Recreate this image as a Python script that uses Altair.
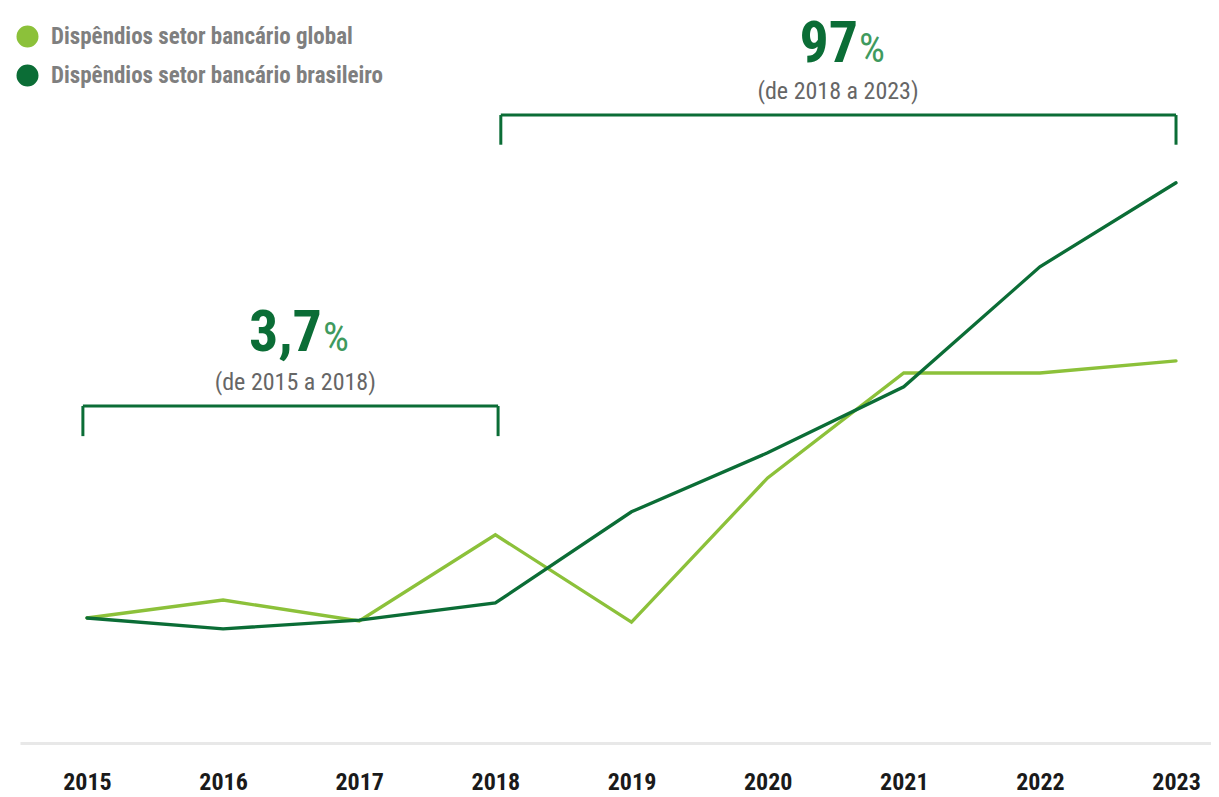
import altair as alt
import pandas as pd

# ---- data (index-like units) ----
years = [2015, 2016, 2017, 2018, 2019, 2020, 2021, 2022, 2023]
global_vals = [100.0, 104.3, 99.3, 119.9, 99.0, 133.5, 158.6, 158.6, 161.5]
brasil_vals = [100.0, 97.4, 99.5, 103.6, 125.4, 139.5, 155.3, 184.0, 204.1]
series_names = ["Dispêndios setor bancário global", "Dispêndios setor bancário brasileiro"]
series_colors = ["#8cc13a", "#0b6d36"]

# ---- annotations ----
ann_value = ["3,7", "97"]
ann_sub = ["(de 2015 a 2018)", "(de 2018 a 2023)"]
br_x0 = [2014.97, 2018.04]
br_x1 = [2018.02, 2023.0]
br_top = [150.7, 220.3]
br_bottom = [143.5, 213.2]
num_x = [2016.726, 2020.664]
num_y = [163.9, 233.0]
sub_x = [2016.53, 2020.517]
sub_y = [154.5, 224.2]

FONT = ("Roboto Condensed, Open Sans Condensed, Noto Sans Condensed, Arial Narrow, "
        "Liberation Sans Narrow, DejaVu Sans Condensed, sans-serif")
DARK = "#0b6d36"

rows = []
for name, vals in zip(series_names, [global_vals, brasil_vals]):
    for y, v in zip(years, vals):
        rows.append({"ano": y, "valor": v, "serie": name})
df = pd.DataFrame(rows)

ann = pd.DataFrame({
    "x0": br_x0, "x1": br_x1, "top": br_top, "bottom": br_bottom,
    "nx": num_x, "ny": num_y, "sx": sub_x, "sy": sub_y,
    "num": ann_value, "sub": ann_sub, "pct": ["%", "%"],
})
ticks = pd.DataFrame({
    "x": br_x0 + br_x1,
    "top": br_top + br_top,
    "bottom": br_bottom + br_bottom,
})

xscale = alt.Scale(domain=[2014.508, 2023.257], nice=False, zero=False)
yscale = alt.Scale(domain=[70.1, 245.9], nice=False, zero=False)

lines = alt.Chart(df).mark_line(strokeWidth=3.3, strokeCap="round").encode(
    x=alt.X("ano:Q", scale=xscale, axis=alt.Axis(
        values=years, format="d", title=None, grid=False, ticks=False,
        domainColor="#e8e8e8", domainWidth=3,
        labelFont=FONT, labelFontSize=24, labelFontWeight="bold",
        labelColor="#1a1a1a", labelPadding=27)),
    y=alt.Y("valor:Q", scale=yscale, axis=None),
    color=alt.Color("serie:N", sort=series_names,
                    scale=alt.Scale(domain=series_names, range=series_colors),
                    legend=alt.Legend(
                        title=None, orient="none", legendX=-4, legendY=17,
                        symbolType="circle", symbolSize=121, symbolStrokeWidth=11,
                        labelFont=FONT, labelFontSize=23, labelFontWeight="bold",
                        labelColor="#7f7f7f", labelOffset=12, rowPadding=-17,
                        labelLimit=500, padding=0)),
    order="ano:Q",
)

hbr = alt.Chart(ann).mark_rule(color=DARK, strokeWidth=3).encode(
    x=alt.X("x0:Q", scale=xscale), x2="x1:Q", y=alt.Y("top:Q", scale=yscale))
vbr = alt.Chart(ticks).mark_rule(color=DARK, strokeWidth=3).encode(
    x=alt.X("x:Q", scale=xscale), y=alt.Y("top:Q", scale=yscale), y2="bottom:Q")

num = alt.Chart(ann).mark_text(font=FONT, fontSize=58, fontWeight="bold", color=DARK,
                               align="right", baseline="alphabetic").encode(
    x=alt.X("nx:Q", scale=xscale), y=alt.Y("ny:Q", scale=yscale), text="num:N")
pct = alt.Chart(ann).mark_text(font=FONT, fontSize=41, fontWeight="normal", color="#3f9a5e",
                               align="left", baseline="alphabetic", dx=1).encode(
    x=alt.X("nx:Q", scale=xscale), y=alt.Y("ny:Q", scale=yscale), text="pct:N")
sub = alt.Chart(ann).mark_text(font=FONT, fontSize=24, color="#666666",
                               align="center", baseline="alphabetic").encode(
    x=alt.X("sx:Q", scale=xscale), y=alt.Y("sy:Q", scale=yscale), text="sub:N")

chart = alt.layer(lines, hbr, vbr, num, pct, sub).properties(
    width=1191, height=735,
    padding={"left": 12, "top": 0, "right": 0, "bottom": 54},
    autosize=alt.AutoSizeParams(type="none"),
).configure(background="white").configure_view(stroke=None)

chart.save("out.html", embed_options={"renderer": "svg", "actions": False})
